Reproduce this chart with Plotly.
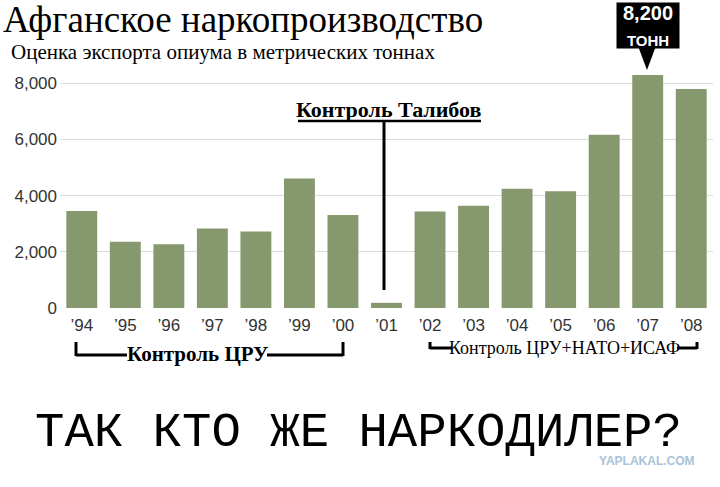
import plotly.graph_objects as go

# Экспорт опиума, метрические тонны (оценка по графику)
years = ["’94", "’95", "’96", "’97", "’98", "’99", "’00", "’01",
         "’02", "’03", "’04", "’05", "’06", "’07", "’08"]
tons = [3450, 2360, 2270, 2830, 2720, 4610, 3310, 185,
        3430, 3640, 4240, 4150, 6160, 8290, 7790]
y_ticks = [0, 2000, 4000, 6000, 8000]
y_tick_labels = ["0", "2,000", "4,000", "6,000", "8,000"]
callout_year = "’07"
callout_text = "8,200"

W, H = 720, 487
L, R, T, B = 60, 7, 55, 179


def px(x):
    # пиксели -> координаты paper по горизонтали
    return (x - L) / (W - L - R)


def py(y):
    # пиксели -> координаты paper по вертикали
    return (H - B - y) / (H - T - B)


BAR = "#86996e"
SERIF = "Liberation Serif, Times New Roman, serif"
SANS = "Liberation Sans, Arial, sans-serif"

fig = go.Figure(go.Bar(x=years, y=tons, marker=dict(color=BAR, line=dict(width=0)),
                       hoverinfo="x+y"))

shapes = []


def seg(x0, y0, x1, y1, w=3):
    shapes.append(dict(type="line", xref="paper", yref="paper",
                       x0=px(x0), y0=py(y0), x1=px(x1), y1=py(y1),
                       line=dict(color="black", width=w)))


# Талибы: подчёркивание и указатель
seg(298, 121, 481, 121, 2.5)
seg(384, 121, 384, 290, 3)

# скобка ЦРУ
seg(76, 342, 76, 356)
seg(76, 355, 127, 355)
seg(267, 355, 343, 355)
seg(343, 342, 343, 356)

# скобка ЦРУ+НАТО+ИСАФ
seg(430, 342, 430, 349)
seg(430, 348, 452, 348)
seg(677, 348, 697, 348)
seg(697, 342, 697, 349)

# треугольник выноски
shapes.append(dict(type="path", xref="paper", yref="paper",
                   path=f"M {px(638)} {py(46)} L {px(656)} {py(46)} L {px(647)} {py(70)} Z",
                   fillcolor="black", line=dict(width=0)))

annotations = [
    dict(text="Афганское наркопроизводство", x=px(1), y=py(20), xanchor="left",
         yanchor="middle", font=dict(family=SERIF, size=37, color="black")),
    dict(text="Оценка экспорта опиума в метрических тоннах", x=px(9), y=py(52),
         xanchor="left", yanchor="middle", font=dict(family=SERIF, size=21, color="black")),
    dict(text="<b>Контроль Талибов</b>", x=px(389), y=py(109), xanchor="center",
         yanchor="middle", font=dict(family=SERIF, size=22, color="black")),
    dict(text="<b>Контроль ЦРУ</b>", x=px(197), y=py(354), xanchor="center",
         yanchor="middle", font=dict(family=SERIF, size=21, color="black")),
    dict(text="Контроль ЦРУ+НАТО+ИСАФ", x=px(564), y=py(348), xanchor="center",
         yanchor="middle", font=dict(family=SERIF, size=18, color="black")),
    dict(text="ТАК КТО ЖЕ НАРКОДИЛЕР?", x=px(358), y=py(433), xanchor="center",
         yanchor="middle", font=dict(family="Liberation Mono, Courier New, monospace",
                                     size=49, color="black")),
    dict(text="<b>YAPLAKAL.COM</b>", x=px(697), y=py(461), xanchor="right",
         yanchor="middle", font=dict(family=SANS, size=12, color="#a9c3da")),
    dict(text=f"<b>{callout_text}</b><br><b><span style='font-size:15px'>ТОНН</span></b>",
         xref="x", x=callout_year, yref="paper", y=py(25), xanchor="center",
         yanchor="middle", width=60, height=43, bgcolor="black",
         font=dict(family=SANS, size=20, color="white")),
]
for a in annotations:
    a.setdefault("xref", "paper")
    a.setdefault("yref", "paper")
    a["showarrow"] = False

fig.update_layout(
    width=W, height=H,
    margin=dict(l=L, r=R, t=T, b=B),
    paper_bgcolor="white", plot_bgcolor="white",
    bargap=0.29,
    showlegend=False,
    xaxis=dict(showgrid=False, showline=False, ticks="", ticklabelstandoff=5,
               tickfont=dict(family=SANS, size=17, color="#333333"), fixedrange=True),
    yaxis=dict(range=[0, 9000], tickvals=y_ticks, ticktext=y_tick_labels,
               showgrid=True, gridcolor="#dcdcdc", gridwidth=1, zeroline=False,
               showline=False, ticks="", ticklabelstandoff=2,
               tickfont=dict(family=SANS, size=17, color="#333333"), fixedrange=True),
    shapes=shapes,
    annotations=annotations,
)

# убрать стандартный отступ страницы и панель инструментов
fig.write_html("out.html", config={"displayModeBar": False},
               post_script="document.body.style.margin='0';")
